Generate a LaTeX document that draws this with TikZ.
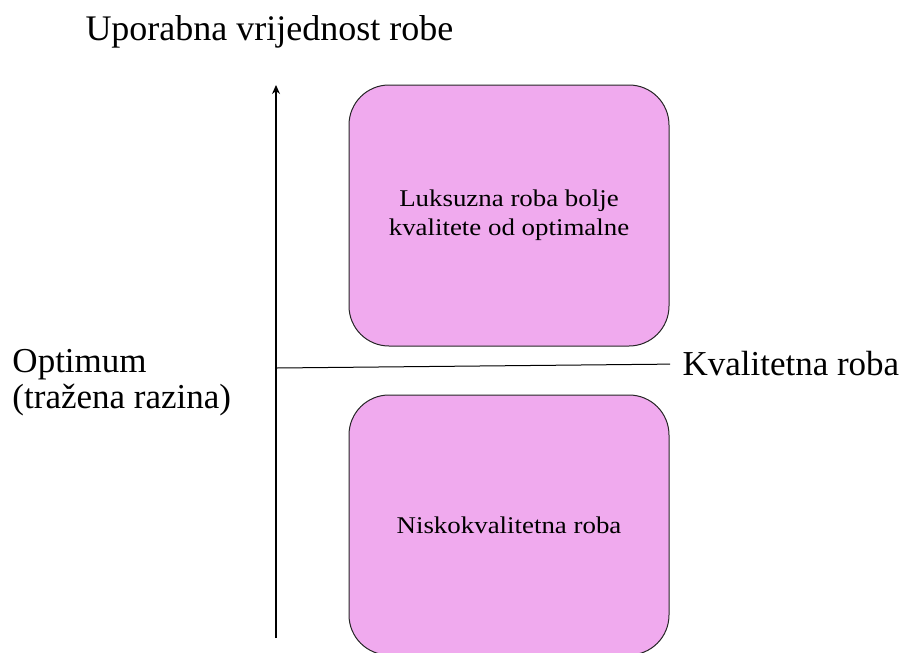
\documentclass[tikz,border=0pt]{standalone}
\usepackage{fontspec}
\setmainfont{Liberation Serif}
\newfontfamily\boxfont[FakeStretch=1.12]{Liberation Serif}
\usepackage{tikz}
\usetikzlibrary{arrows.meta}
\definecolor{boxpink}{RGB}{240,170,238}

\begin{document}
\begin{tikzpicture}[x=1pt, y=-1pt, line width=1pt,
  kutija/.style={draw=black!85, fill=boxpink, rounded corners=40pt,
    minimum width=320pt, align=center,
    font=\boxfont\fontsize{24}{29}\selectfont},
  veliki/.style={inner sep=0pt, font=\fontsize{35}{40}\selectfont}]

\useasboundingbox (0,0) rectangle (908,653);

% draw the two boxes
\node[kutija, minimum height=261pt] (luks) at (509,215.5)
  {Luksuzna roba bolje\\kvalitete od optimalne};
\node[kutija, minimum height=260pt] (nisko) at (509,525)
  {Niskokvalitetna roba};

% draw the axis
\coordinate (dno) at (276,638);
\coordinate (vrh) at (276,85);
\draw[-{Stealth[length=9pt,width=8pt]}, line width=1.3pt] (dno) -- (vrh);

% label the axis
\node[veliki, anchor=base west, font=\fontsize{36}{40}\selectfont] (uporabna)
  at (85,40) {Uporabna vrijednost robe};
\node[veliki, anchor=base west] (optimum) at (12,372) {Optimum};
\node[veliki, anchor=base west] (razina) at (12,408) {(tražena razina)};

% draw the optimum line
\coordinate (opt) at (277,368);
\node[veliki, anchor=west] (kval) at (682,364) {Kvalitetna roba};
\draw[shorten >=12pt] (opt) -- (kval.west);

\end{tikzpicture}
\end{document}
